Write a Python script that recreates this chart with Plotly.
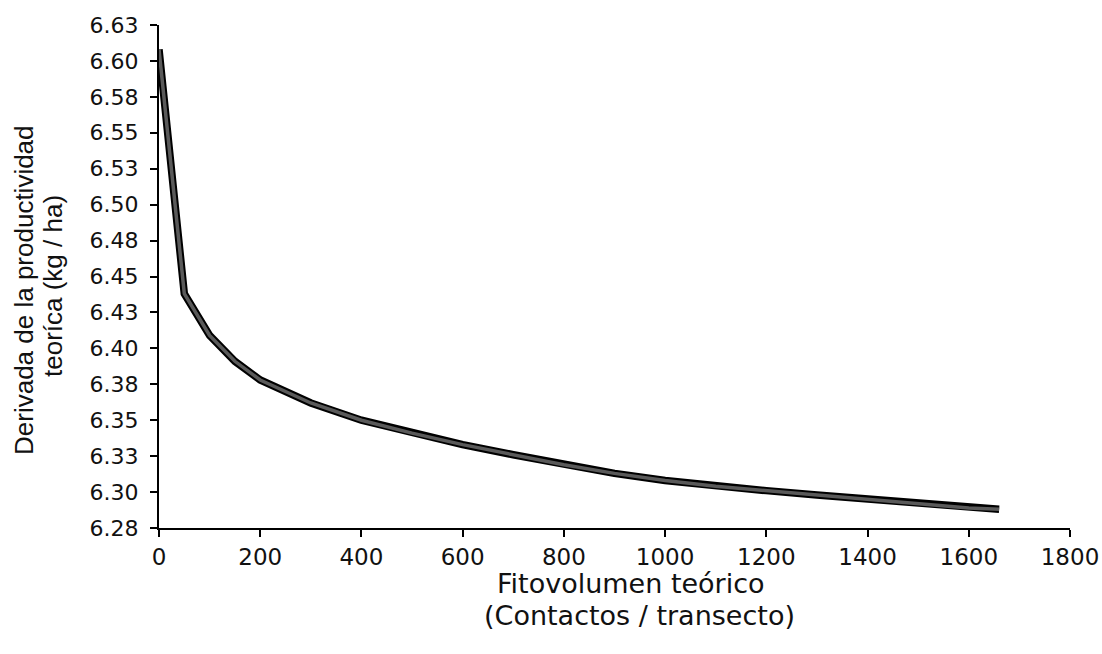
import plotly.graph_objects as go

# Fitovolumen teórico (contactos / transecto)
fitovolumen = [0, 50, 100, 150, 200, 250, 300, 400, 500, 600, 700, 800,
               900, 1000, 1100, 1200, 1300, 1400, 1500, 1600, 1660]
# Derivada de la productividad teórica (kg / ha)
derivada = [6.608, 6.438, 6.409, 6.391, 6.378, 6.370, 6.362, 6.350, 6.341,
            6.333, 6.326, 6.319, 6.313, 6.308, 6.304, 6.301, 6.298, 6.295,
            6.292, 6.289, 6.288]

y_tickvals = [6.275, 6.300, 6.325, 6.350, 6.375, 6.400, 6.425, 6.450,
              6.475, 6.500, 6.525, 6.550, 6.575, 6.600, 6.625]
y_ticktext = ["6.28", "6.30", "6.33", "6.35", "6.38", "6.40", "6.43", "6.45",
              "6.48", "6.50", "6.53", "6.55", "6.58", "6.60", "6.63"]
x_tickvals = [0, 200, 400, 600, 800, 1000, 1200, 1400, 1600, 1800]

fig = go.Figure()

# thick curve: black outline with a dark grey core
fig.add_trace(go.Scatter(x=fitovolumen, y=derivada, mode="lines",
                         line=dict(color="#000000", width=7.5),
                         hoverinfo="skip", showlegend=False))
fig.add_trace(go.Scatter(x=fitovolumen, y=derivada, mode="lines",
                         line=dict(color="#5a5a5a", width=3.5),
                         showlegend=False))

L, R, T, B = 159, 32, 25, 126
W, H = 1102, 654
pw, ph = W - L - R, H - T - B


def px(x):
    return (x - L) / pw


def py(y):
    return (H - B - y) / ph


fig.update_layout(
    width=W, height=H,
    margin=dict(l=L, r=R, t=T, b=B, pad=0),
    paper_bgcolor="white", plot_bgcolor="white",
    font=dict(family="DejaVu Sans", color="#111111"),
    xaxis=dict(range=[0, 1800], tickvals=x_tickvals, automargin=False,
               showgrid=False, zeroline=False,
               showline=True, linecolor="#000000", linewidth=2,
               ticks="outside", ticklen=7, tickwidth=2, tickcolor="#000000",
               tickfont=dict(family="DejaVu Sans", size=23, color="#111111"),
               ticklabelstandoff=0),
    yaxis=dict(range=[6.275, 6.625], tickvals=y_tickvals, ticktext=y_ticktext,
               automargin=False,
               showgrid=False, zeroline=False,
               showline=True, linecolor="#000000", linewidth=2,
               ticks="outside", ticklen=7, tickwidth=2, tickcolor="#000000",
               tickfont=dict(family="DejaVu Sans", size=22, color="#111111"),
               ticklabelstandoff=7),
    annotations=[
        dict(text="Fitovolumen teórico", xref="paper", yref="paper",
             x=px(631), y=py(583), xanchor="center", yanchor="middle",
             showarrow=False,
             font=dict(family="DejaVu Sans", size=27, color="#111111")),
        dict(text="(Contactos / transecto)", xref="paper", yref="paper",
             x=px(639), y=py(615), xanchor="center", yanchor="middle",
             showarrow=False,
             font=dict(family="DejaVu Sans", size=27, color="#111111")),
        dict(text="Derivada de la productividad", xref="paper", yref="paper",
             x=px(24), y=py(290), xanchor="center", yanchor="middle",
             textangle=-90, showarrow=False,
             font=dict(family="Liberation Sans", size=26, color="#111111")),
        dict(text="teoríca (kg / ha)", xref="paper", yref="paper",
             x=px(53), y=py(286), xanchor="center", yanchor="middle",
             textangle=-90, showarrow=False,
             font=dict(family="Liberation Sans", size=26, color="#111111")),
    ],
)

fig.write_html("out.html")
